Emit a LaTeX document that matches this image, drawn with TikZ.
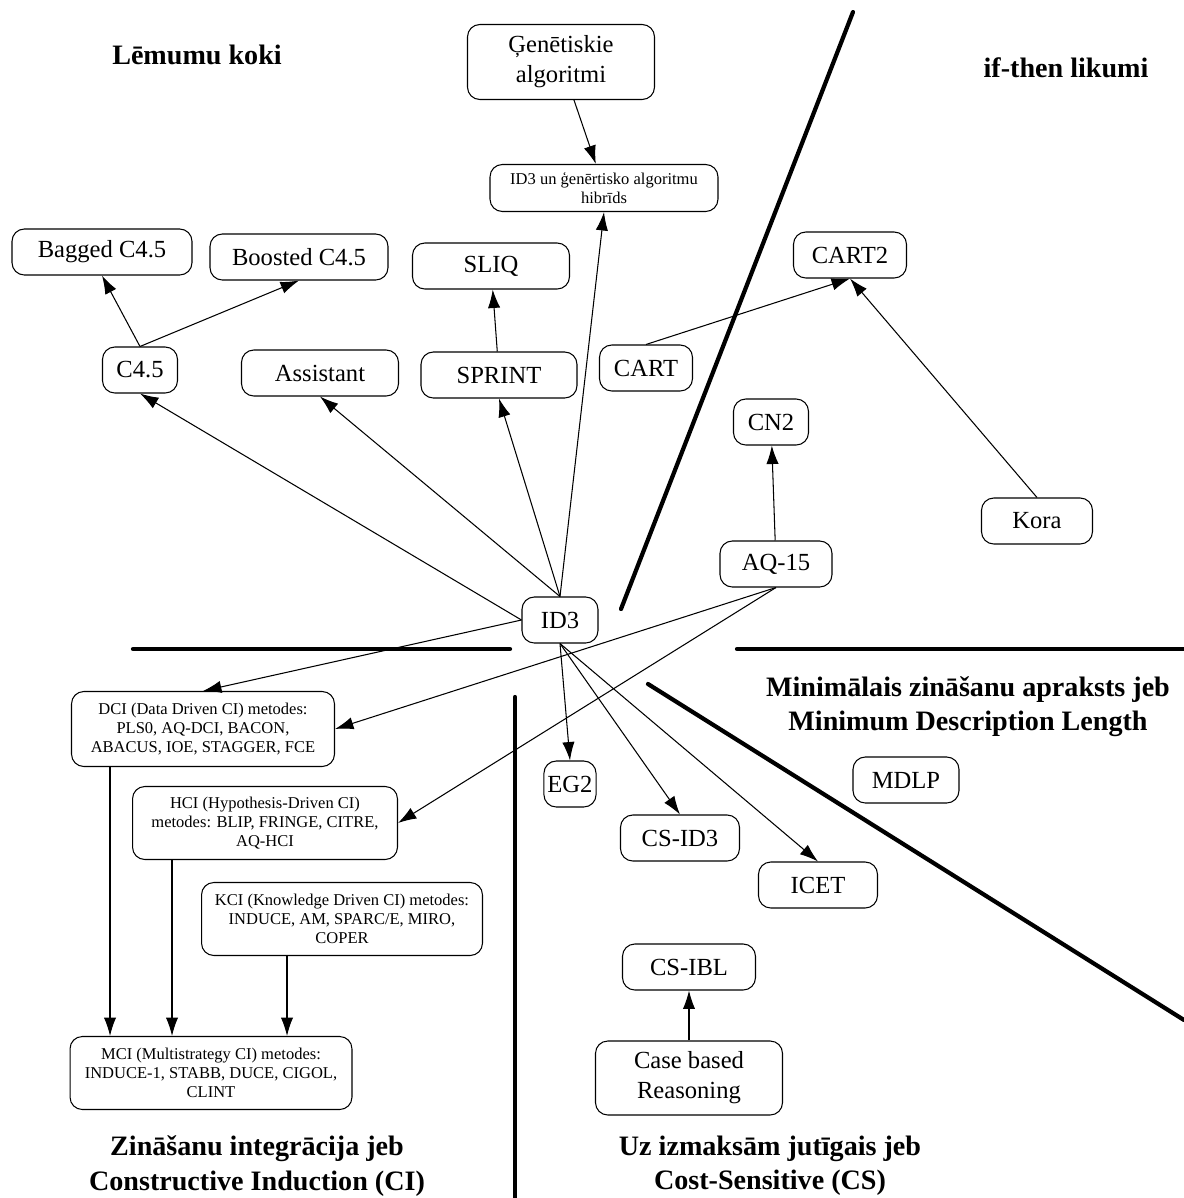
\documentclass[tikz,border=0pt]{standalone}
\usepackage{fontspec}
\setmainfont{Liberation Serif}
\usetikzlibrary{arrows.meta, positioning}
\tikzset{
  every picture/.style={line width=0.6pt},
  box/.style={draw, rounded corners=7pt, align=center, inner sep=2pt, minimum height=0.92cm, font=\fontsize{14}{17}\selectfont},
  smallbox/.style={box, font=\fontsize{9.4}{10.8}\selectfont},
  arrow/.style={-{Latex[length=10.5pt, width=7pt]}, draw=black, line width=0.6pt},
  title/.style={font=\fontsize{16}{19.5}\selectfont\bfseries, align=center},
  divider/.style={line width=2.4pt, line cap=round},
}

\begin{document}
\begin{tikzpicture}[x=0.02cm, y=-0.02cm]
  \useasboundingbox (0,0) rectangle (1184,1198);
  % ---------- titles ----------
  \node[title] (tdt) at (197, 55) {Lēmumu koki};
  \node[title] (tif) at (1066, 68) {if-then likumi};
  \node[title] (tmdl) at (968, 707) {Minimālais zināšanu apraksts jeb\\Minimum Description Length};
  \node[title] (tci) at (257, 1166) {Zināšanu integrācija jeb\\Constructive Induction (CI)};
  \node[title] (tcs) at (770, 1166) {Uz izmaksām jutīgais jeb\\Cost-Sensitive (CS)};
  % ---------- dividers ----------
  \draw[divider] (853, 12) -- (621, 609);
  \draw[divider] (133, 649) -- (510, 649);
  \draw[divider] (737, 649) -- (1184, 649);
  \draw[divider] (648, 684) -- (1184, 1020);
  \draw[divider] (515, 697) -- (515, 1198);
  % ---------- decision trees ----------
  \node[box, minimum width=3.74cm, minimum height=1.5cm] (gen) at (561, 62) {Ģenētiskie\\algoritmi};
  \node[smallbox, minimum width=4.56cm, minimum height=0.94cm] (hyb) at (604, 188) {ID3 un ģenērtisko algoritmu\\hibrīds};
  \node[box, minimum width=3.6cm] (bagged) at (102, 252) {Bagged C4.5};
  \node[box, minimum width=3.56cm] (boosted) at (299, 257) {Boosted C4.5};
  \node[box, minimum width=3.14cm] (sliq) at (491, 266) {SLIQ};
  \node[box, minimum width=1.5cm] (c45) at (140, 370) {C4.5};
  \node[box, minimum width=3.14cm] (assist) at (320, 373) {Assistant};
  \node[box, minimum width=3.12cm] (sprint) at (499, 375) {SPRINT};
  \node[box, minimum width=1.52cm] (id3) at (560, 620) {ID3};
  \draw[arrow] (gen) -- (hyb);
  \draw[arrow] (id3.north) -- (hyb.south);
  \draw[arrow] (id3.north) -- (sprint.south);
  \draw[arrow] (sprint) -- (sliq);
  \draw[arrow] (id3.north) -- (assist.south);
  \draw[arrow] (id3.west) -- (c45.south);
  \draw[arrow] (c45.north) -- (bagged.south);
  \draw[arrow] (c45.north) -- (boosted.south);
  % ---------- if-then rules ----------
  \node[box, minimum width=2.26cm] (cart2) at (850, 255) {CART2};
  \node[box, minimum width=1.86cm] (cart) at (646, 368) {CART};
  \node[box, minimum width=1.5cm] (cn2) at (771, 422) {CN2};
  \node[box, minimum width=2.22cm] (kora) at (1037, 521) {Kora};
  \node[box, minimum width=2.24cm] (aq15) at (776, 564) {AQ-15};
  \draw[arrow] (cart.north) -- (cart2.south);
  \draw[arrow] (kora.north) -- (cart2.south);
  \draw[arrow] (aq15) -- (cn2);
  % ---------- constructive induction ----------
  \node[smallbox, minimum width=5.26cm, minimum height=1.5cm] (dci) at (203, 729) {DCI (Data Driven CI) metodes:\\PLS0, AQ-DCI, BACON,\\ABACUS, IOE, STAGGER, FCE};
  \node[smallbox, minimum width=5.3cm, minimum height=1.46cm] (hci) at (265, 823) {HCI (Hypothesis-Driven CI)\\metodes: BLIP, FRINGE, CITRE,\\AQ-HCI};
  \node[smallbox, minimum width=5.62cm, minimum height=1.46cm] (kci) at (342, 919) {KCI (Knowledge Driven CI) metodes:\\INDUCE, AM, SPARC/E, MIRO,\\COPER};
  \node[smallbox, minimum width=5.64cm, minimum height=1.46cm] (mci) at (211, 1073) {MCI (Multistrategy CI) metodes:\\INDUCE-1, STABB, DUCE, CIGOL,\\CLINT};
  \draw[arrow] (id3.west) -- (dci.north);
  \draw[arrow] (aq15.south) -- (dci.east);
  \draw[arrow] (aq15.south) -- (hci.east);
  \draw[arrow] ([xshift=-1.86cm]dci.south) -- ([xshift=-1.86cm]dci.south |- mci.north);
  \draw[arrow] ([xshift=-1.86cm]hci.south) -- ([xshift=-1.86cm]hci.south |- mci.north);
  \draw[arrow] ([xshift=-1.1cm]kci.south) -- ([xshift=-1.1cm]kci.south |- mci.north);
  % ---------- cost-sensitive ----------
  \node[box, minimum width=0.94cm] (eg2) at (570, 784) {EG2};
  \node[box, minimum width=2.38cm] (csid3) at (680, 838) {CS-ID3};
  \node[box, minimum width=2.38cm] (icet) at (818, 885) {ICET};
  \node[box, minimum width=2.66cm] (csibl) at (689, 967) {CS-IBL};
  \node[box, minimum width=3.74cm, minimum height=1.48cm] (cbr) at (689, 1078) {Case based\\Reasoning};
  \draw[arrow] (id3.south) -- (eg2.north);
  \draw[arrow] (id3.south) -- (csid3.north);
  \draw[arrow] (id3.south) -- (icet.north);
  \draw[arrow] (cbr) -- (csibl);
  % ---------- minimum description length ----------
  \node[box, minimum width=2.12cm] (mdlp) at (906, 780) {MDLP};
\end{tikzpicture}
\end{document}
